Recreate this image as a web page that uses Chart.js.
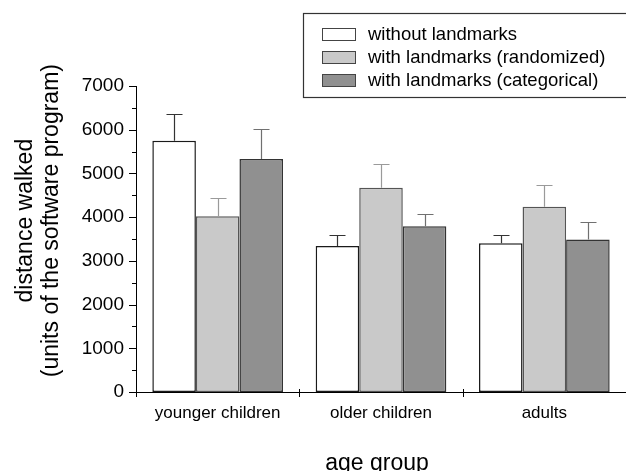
<!DOCTYPE html>
<html>
<head>
<meta charset="utf-8">
<script src="https://cdn.jsdelivr.net/npm/chart.js@4/dist/chart.umd.min.js"></script>
<style>
  html, body { margin: 0; padding: 0; background: #fff; }
  #wrap { width: 626px; height: 471px; }
</style>
</head>
<body>
<div id="wrap"><canvas id="c" width="626" height="471"></canvas></div>
<script>
// Mean distance walked per age group and condition, with the upper end of each error bar
const ageGroups = ['younger children', 'older children', 'adults'];
const seriesNames = ['without landmarks', 'with landmarks (randomized)', 'with landmarks (categorical)'];
const withoutLandmarks = [5750, 3340, 3400];
const randomizedLandmarks = [4020, 4670, 4240];
const categoricalLandmarks = [5330, 3790, 3490];
const withoutLandmarksUpper = [6350, 3600, 3600];
const randomizedLandmarksUpper = [4430, 5210, 4730];
const categoricalLandmarksUpper = [6010, 4080, 3880];
const yRange = [0, 7000];
const yLabelStep = 1000;
const yMinorStep = 500;
const yTitleLines = ['distance walked', '(units of the software program)'];
const xTitle = 'age group';

const FONT = "'Liberation Sans', Arial, sans-serif";

// upper error bars above each bar
const errorBarPlugin = {
  id: 'errorBars',
  afterDatasetsDraw(chart) {
    const ctx = chart.ctx;
    const y = chart.scales.y;
    chart.data.datasets.forEach((ds, di) => {
      const meta = chart.getDatasetMeta(di);
      meta.data.forEach((bar, i) => {
        const top = y.getPixelForValue(ds.data[i]);
        const up = y.getPixelForValue(ds.errorUpper[i]);
        const x = Math.round(bar.x) + 0.5;
        ctx.save();
        ctx.strokeStyle = ds.errorColor;
        ctx.lineWidth = 1.2;
        ctx.beginPath();
        ctx.moveTo(x, top);
        ctx.lineTo(x, Math.round(up) + 0.5);
        ctx.moveTo(x - 8, Math.round(up) + 0.5);
        ctx.lineTo(x + 8, Math.round(up) + 0.5);
        ctx.stroke();
        ctx.restore();
      });
    });
  }
};

// tick marks: long at labelled values, short between; category separators on the x axis
const axisTicksPlugin = {
  id: 'axisTicks',
  afterDraw(chart) {
    const ctx = chart.ctx;
    const y = chart.scales.y;
    const x = chart.scales.x;
    const area = chart.chartArea;
    ctx.save();
    ctx.strokeStyle = '#000';
    ctx.lineWidth = 1;
    ctx.beginPath();
    y.ticks.forEach(t => {
      const py = Math.round(y.getPixelForValue(t.value)) + 0.5;
      const len = t.value % yLabelStep === 0 ? 7 : 4;
      ctx.moveTo(area.left - len, py);
      ctx.lineTo(area.left, py);
    });
    const n = chart.data.labels.length;
    for (let i = 0; i < n; i++) {
      const px = Math.round(x.left + (x.right - x.left) * i / n) + 0.5;
      ctx.moveTo(px, area.bottom - 3);
      ctx.lineTo(px, area.bottom + 5);
    }
    ctx.stroke();
    ctx.restore();
  }
};

// axis titles
const titlesPlugin = {
  id: 'axisTitles',
  afterDraw(chart) {
    const ctx = chart.ctx;
    const area = chart.chartArea;
    ctx.save();
    ctx.fillStyle = '#000';
    ctx.font = '23px ' + FONT;
    ctx.textAlign = 'center';
    ctx.textBaseline = 'middle';
    const cy = area.top + (area.bottom - area.top) * 0.44;
    [26, 52].forEach((cx, i) => {
      ctx.save();
      ctx.translate(cx, cy);
      ctx.rotate(-Math.PI / 2);
      ctx.fillText(yTitleLines[i], 0, 0);
      ctx.restore();
    });
    ctx.fillText(xTitle, (area.left + area.right) / 2 - 4, area.bottom + 72);
    ctx.restore();
  }
};

// framed legend in the upper right
const legendBoxPlugin = {
  id: 'legendBox',
  afterDraw(chart) {
    const ctx = chart.ctx;
    ctx.save();
    ctx.strokeStyle = '#333';
    ctx.lineWidth = 1.2;
    ctx.strokeRect(303.5, 13.5, 340, 84);
    ctx.font = '18.5px ' + FONT;
    ctx.textBaseline = 'middle';
    ctx.textAlign = 'left';
    chart.data.datasets.forEach((ds, i) => {
      const cy = 34 + i * 23;
      ctx.fillStyle = ds.backgroundColor;
      ctx.fillRect(322, cy - 6, 33, 12);
      ctx.strokeStyle = '#444';
      ctx.lineWidth = 1;
      ctx.strokeRect(322.5, cy - 6 + 0.5, 33, 12);
      ctx.fillStyle = '#000';
      ctx.fillText(ds.label, 368, cy + 1);
    });
    ctx.restore();
  }
};

const yTickValues = [];
for (let v = yRange[0]; v <= yRange[1]; v += yMinorStep) yTickValues.push(v);

new Chart(document.getElementById('c'), {
  type: 'bar',
  data: {
    labels: ageGroups,
    datasets: [
      { label: seriesNames[0], data: withoutLandmarks, errorUpper: withoutLandmarksUpper,
        backgroundColor: '#ffffff', borderColor: '#1a1a1a', errorColor: '#333333' },
      { label: seriesNames[1], data: randomizedLandmarks, errorUpper: randomizedLandmarksUpper,
        backgroundColor: '#c9c9c9', borderColor: '#555555', errorColor: '#9a9a9a' },
      { label: seriesNames[2], data: categoricalLandmarks, errorUpper: categoricalLandmarksUpper,
        backgroundColor: '#909090', borderColor: '#333333', errorColor: '#707070' }
    ].map(d => Object.assign(d, { borderWidth: 1.5, borderSkipped: false,
                                   barPercentage: 1.0, categoryPercentage: 0.8 }))
  },
  options: {
    responsive: false,
    animation: false,
    devicePixelRatio: 1,
    layout: { padding: { top: 86, right: 0, bottom: 0, left: 0 } },
    plugins: { legend: { display: false }, tooltip: { enabled: false } },
    scales: {
      x: {
        grid: { display: false, drawTicks: false },
        border: { display: true, color: '#000', width: 1 },
        ticks: { color: '#000', font: { family: FONT, size: 17 }, padding: 11, maxRotation: 0 },
        afterFit(s) { s.height = 79; }
      },
      y: {
        min: yRange[0],
        max: yRange[1],
        afterBuildTicks(s) { s.ticks = yTickValues.map(v => ({ value: v })); },
        grid: { display: false, drawTicks: false },
        border: { display: true, color: '#000', width: 1 },
        ticks: {
          autoSkip: false,
          color: '#000',
          font: { family: FONT, size: 19 },
          padding: 12,
          callback: v => (v % yLabelStep === 0 ? String(v) : '')
        },
        afterFit(s) { s.width = 136; }
      }
    }
  },
  plugins: [errorBarPlugin, axisTicksPlugin, titlesPlugin, legendBoxPlugin]
});
</script>
</body>
</html>
